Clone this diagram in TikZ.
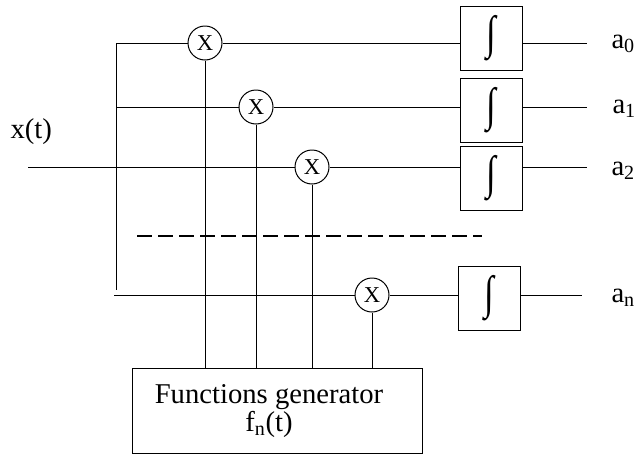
\documentclass[tikz,border=0pt]{standalone}
\usepackage{graphicx}
\usepackage{fontspec}
\setmainfont{Liberation Serif}
\newcommand{\intsym}{\scalebox{1.1}[1.45]{\fontsize{24}{24}\selectfont ∫}}
\begin{document}
\begin{tikzpicture}[x=0.75pt,y=-0.75pt,line width=0.75pt,
  mult/.style={draw,circle,minimum size=25.5pt,inner sep=0pt,font=\fontsize{17}{17}\selectfont},
  intbox/.style={draw,rectangle,minimum width=46.5pt,minimum height=48pt,inner sep=0pt},
  lbl/.style={font=\fontsize{21.5}{19.5}\selectfont,inner sep=0pt},
  dashline/.style={line width=1.5pt,dash pattern=on 11.25pt off 4.5pt}]
\useasboundingbox (0,0) rectangle (636,454);
% multipliers
\node[mult] (m1) at (205,43) {X};
\node[mult] (m2) at (256,107) {X};
\node[mult] (m3) at (312,167) {X};
\node[mult] (m4) at (372,295) {X};
% integrators
\node[intbox] (i1) at (491,38) {\intsym};
\node[intbox] (i2) at (491,110) {\intsym};
\node[intbox] (i3) at (491,178) {\intsym};
\node[intbox] (i4) at (489,298) {\intsym};
% generator
\node[draw,rectangle,minimum width=217.5pt,minimum height=63.75pt,inner sep=0pt] (gen) at (277,410.5) {};
\node[lbl,align=center] (gentext) at (269,411) {Functions generator\\f\textsubscript{n}(t)};
% labels
\node[lbl,anchor=base west] (xt) at (10,138) {x(t)};
\node[lbl,anchor=base west] (a0) at (611,48) {a\textsubscript{0}};
\node[lbl,anchor=base west] (a1) at (612,113) {a\textsubscript{1}};
\node[lbl,anchor=base west] (a2) at (611,175) {a\textsubscript{2}};
\node[lbl,anchor=base west] (an) at (611,302) {a\textsubscript{n}};
% coordinates
\coordinate (c0) at (116,43);
\coordinate (c1) at (116,107);
\coordinate (cin) at (28,167);
\coordinate (cend) at (116,290);
\coordinate (cn) at (114,295);
\coordinate (o0) at (587,43);
\coordinate (o1) at (587,107);
\coordinate (o2) at (587,167);
\coordinate (on) at (582,295);
\coordinate (d1) at (137,236);
\coordinate (d2) at (482,236);
% input distribution
\draw (c0) -- (cend);
\draw (c0) -- (m1.west);
\draw (c1) -- (m2.west);
\draw (cin) -- (m3.west);
\draw (cn) -- (m4.west);
% multiplier to integrator, integrator to output
\draw (m1.east) -- (m1.east -| i1.west);
\draw (m2.east) -- (m2.east -| i2.west);
\draw (m3.east) -- (m3.east -| i3.west);
\draw (m4.east) -- (m4.east -| i4.west);
\draw (o0 -| i1.east) -- (o0);
\draw (o1 -| i2.east) -- (o1);
\draw (o2 -| i3.east) -- (o2);
\draw (on -| i4.east) -- (on);
% generator to multipliers
\draw (m1.south) -- (m1.south |- gen.north);
\draw (m2.south) -- (m2.south |- gen.north);
\draw (m3.south) -- (m3.south |- gen.north);
\draw (m4.south) -- (m4.south |- gen.north);
% dashed separator
\draw[dashline] (d1) -- (d2);
\end{tikzpicture}
\end{document}
